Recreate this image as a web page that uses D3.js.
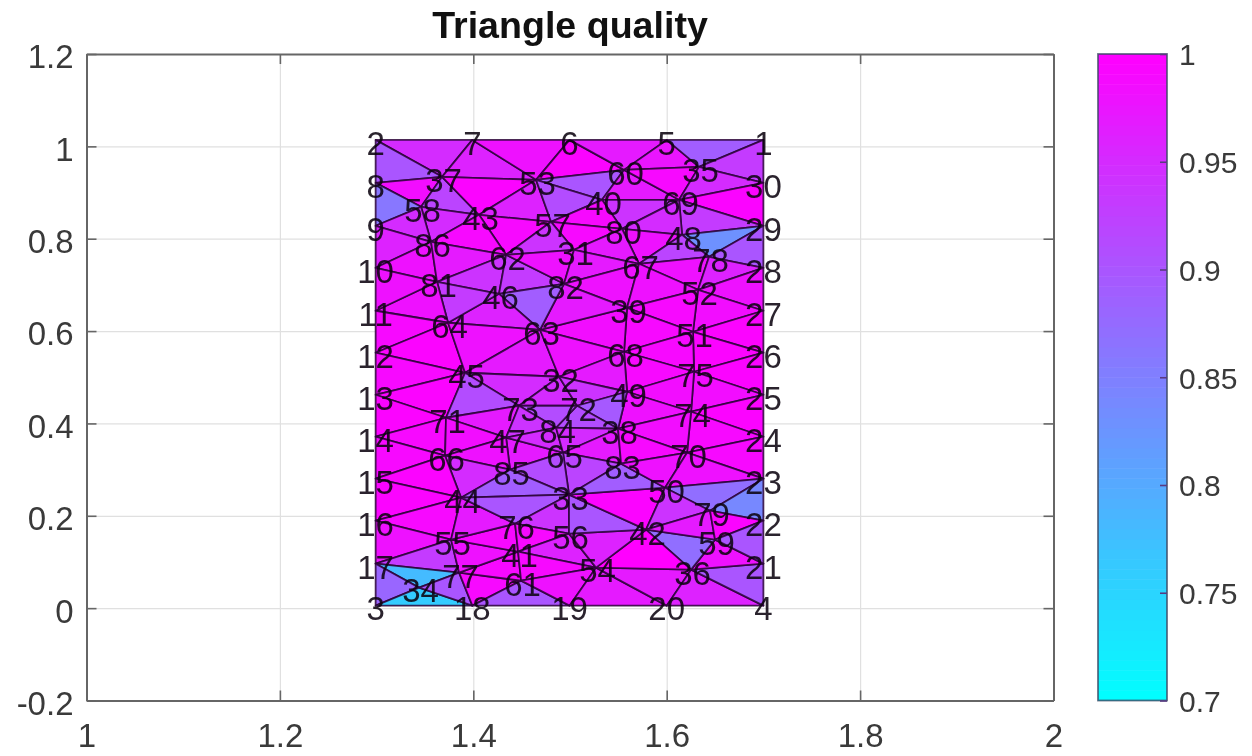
<!DOCTYPE html>
<html>
<head>
<meta charset="utf-8">
<script src="https://cdn.jsdelivr.net/npm/d3@7"></script>
<style>
  html, body { margin: 0; padding: 0; background: white; }
  svg text { font-family: "Liberation Sans", Arial, sans-serif; }
  /* the reference is a soft screenshot */
  svg { filter: blur(0.6px); }
</style>
</head>
<body>
<div id="chart"></div>
<script>
// node positions, index 0 is node 1
var nodeX = [1.7, 1.299, 1.299, 1.7, 1.6, 1.4995, 1.399, 1.299, 1.299, 1.299,
  1.299, 1.299, 1.299, 1.299, 1.299, 1.299, 1.299, 1.399, 1.4995, 1.6,
  1.7, 1.7, 1.7, 1.7, 1.7, 1.7, 1.7, 1.7, 1.7, 1.7,
  1.5042, 1.4887, 1.499, 1.3439, 1.6334, 1.6252, 1.3677, 1.5497, 1.559, 1.5331,
  1.4463, 1.5786, 1.4059, 1.3873, 1.3915, 1.4266, 1.4339, 1.6159, 1.559, 1.5983,
  1.6272, 1.6324, 1.4649, 1.5269, 1.377, 1.499, 1.4804, 1.346, 1.65, 1.5559,
  1.4494, 1.4339, 1.469, 1.3739, 1.4928, 1.3708, 1.5714, 1.5559, 1.6128, 1.621,
  1.3718, 1.5073, 1.4473, 1.6252, 1.6283, 1.4432, 1.3853, 1.6438, 1.6448, 1.5538,
  1.3625, 1.4938, 1.5528, 1.4856, 1.438, 1.3563]
var nodeY = [1.014, 1.014, 0.0054, 0.0054, 1.014, 1.014, 1.014, 0.921, 0.828, 0.737,
  0.644, 0.5531, 0.4621, 0.3712, 0.2803, 0.1894, 0.0963, 0.0054, 0.0054, 0.0054,
  0.0963, 0.1894, 0.2803, 0.3712, 0.4621, 0.5531, 0.644, 0.737, 0.828, 0.921,
  0.776, 0.5011, 0.2457, 0.0444, 0.9556, 0.0833, 0.934, 0.3885, 0.6504, 0.8842,
  0.1223, 0.1699, 0.8517, 0.2392, 0.5097, 0.6807, 0.3691, 0.8085, 0.4686, 0.2608,
  0.5985, 0.6894, 0.9275, 0.0877, 0.1483, 0.1613, 0.8366, 0.8691, 0.1483, 0.9491,
  0.0595, 0.7652, 0.6028, 0.618, 0.3366, 0.3301, 0.7457, 0.5552, 0.8842, 0.3366,
  0.4123, 0.4383, 0.4383, 0.4253, 0.5119, 0.1829, 0.0768, 0.7608, 0.211, 0.8214,
  0.7067, 0.7024, 0.3128, 0.3907, 0.2998, 0.7933]

// triangles use the 1-based node numbers written on the plot
var triangles = [[2,7,37],[2,37,8],[7,53,37],[7,6,53],[6,60,53],[6,5,60],[5,35,60],[5,1,35],[1,30,35],
  [8,37,58],[8,58,9],[37,43,58],[37,53,43],[53,57,43],
  [53,60,40],[60,69,40],[60,35,69],[35,30,69],[30,29,69],[69,29,48],[48,29,78],[29,28,78],
  [40,69,80],[69,48,80],[80,48,67],[48,78,67],[53,40,57],[57,40,80],[57,80,31],[31,80,67],
  [43,57,62],[57,31,62],[58,43,86],[86,43,62],[9,58,86],[9,86,10],[10,86,81],[86,62,81],
  [62,81,46],[62,46,82],[62,31,82],[31,67,82],[82,67,39],[67,78,52],[67,52,39],[78,28,52],[52,28,27],
  [52,27,51],[27,26,51],[39,52,51],[39,51,68],[51,26,75],[51,75,68],[26,25,75],[25,74,75],
  [25,24,74],[68,75,49],[75,74,49],[49,74,38],[74,24,70],[74,70,38],[70,24,23],
  [39,68,63],[82,39,63],[46,82,63],[46,64,63],[81,46,64],[11,81,64],[10,81,11],[11,64,12],
  [12,64,45],[64,45,63],[12,45,13],[13,45,71],[13,71,14],[45,63,32],[63,68,32],[45,73,32],
  [45,71,73],[71,47,73],[14,66,71],[71,47,66],[32,68,49],[32,72,73],[32,49,72],[72,49,38],
  [72,38,84],[73,84,72],[73,47,84],[47,65,85],[47,84,65],[66,47,85],[84,38,65],[38,83,65],
  [38,70,83],[65,33,83],[85,33,65],[66,85,44],[44,33,85],[14,66,15],[15,44,66],[15,16,44],
  [16,44,55],[16,55,17],[17,55,77],[17,34,77],[3,34,17],[3,18,34],[34,18,77],[18,77,61],
  [18,61,19],[77,41,61],[55,41,77],[55,76,41],[44,76,55],[44,33,76],[76,33,56],[76,56,41],
  [41,56,54],[41,54,61],[61,54,19],[19,54,20],[54,36,20],[20,36,4],[36,21,4],[36,59,21],
  [42,59,36],[42,36,54],[56,42,54],[33,42,56],[33,50,42],[33,83,50],[83,70,50],[70,23,50],
  [50,23,79],[23,22,79],[50,79,42],[42,79,59],[79,22,59],[22,21,59]]

var quality = [0.95,0.9,0.96,0.98,0.995,0.97,0.975,0.89,0.93,
  0.985,0.86,0.92,0.995,0.96,
  0.9,0.97,0.99,0.95,0.995,0.93,0.83,0.9,
  0.94,0.95,0.98,0.92,0.91,0.99,0.99,0.97,
  0.99,0.94,0.95,0.99,0.95,0.96,0.98,0.97,
  0.94,0.93,0.98,0.97,0.98,0.98,0.98,0.96,0.98,
  0.985,0.995,0.99,0.99,0.995,0.99,0.995,0.985,
  0.995,0.99,0.985,0.98,0.99,0.985,0.99,
  0.985,0.97,0.89,0.96,0.93,0.98,0.98,0.99,
  0.995,0.98,0.99,0.995,0.995,0.97,0.98,0.95,
  0.91,0.97,0.99,0.985,0.97,0.95,0.94,0.895,
  0.91,0.91,0.94,0.97,0.95,0.98,0.95,0.97,
  0.99,0.92,0.91,0.95,0.89,0.99,0.995,0.995,
  0.99,0.98,0.93,0.78,0.88,0.76,0.9,0.99,
  0.9,0.99,0.98,0.99,0.97,0.9,0.94,0.99,
  0.96,0.99,0.98,0.97,0.97,0.96,0.9,0.98,
  0.87,1,0.96,0.9,0.995,0.89,0.98,0.98,
  0.87,0.84,0.94,0.97,0.995,0.9]

var xTicks = [1, 1.2, 1.4, 1.6, 1.8, 2]
var yTicks = [-0.2, 0, 0.2, 0.4, 0.6, 0.8, 1, 1.2]
var colorTicks = [0.7, 0.75, 0.8, 0.85, 0.9, 0.95, 1]
var titleText = 'Triangle quality'

var margin = { top: 54, left: 86.5, right: 198.5, bottom: 55.5 }
var height = 756 - margin.top - margin.bottom
var width = 1252 - margin.left - margin.right

var svg = d3
  .select('#chart')
  .append('svg')
  .attr('height', 756)
  .attr('width', 1252)
  .style('display', 'block')

var g = svg
  .append('g')
  .attr('transform', 'translate(' + margin.left + ',' + margin.top + ')')

var xScale = d3.scaleLinear().domain([1, 2]).range([0, width])
var yScale = d3.scaleLinear().domain([-0.2, 1.2]).range([height, 0])
var colorScale = d3
  .scaleLinear()
  .domain([0.7, 1])
  .range(['#00ffff', '#ff00ff'])

var axisColor = '#666'
var labelColor = '#3a3a3a'
var plain = d => String(d)

// grid sits under the mesh
g.append('g')
  .attr('class', 'grid')
  .attr('transform', 'translate(0,' + height + ')')
  .call(d3.axisBottom(xScale).tickValues(xTicks).tickSize(-height).tickFormat(''))
g.append('g')
  .attr('class', 'grid')
  .call(d3.axisLeft(yScale).tickValues(yTicks).tickSize(-width).tickFormat(''))
g.selectAll('.grid .domain').remove()
g.selectAll('.grid line').attr('stroke', '#e0e0e0').attr('stroke-width', 1.2)

var line = d3
  .line()
  .x(n => xScale(nodeX[n - 1]))
  .y(n => yScale(nodeY[n - 1]))
  .curve(d3.curveLinearClosed)

g.selectAll('.tri')
  .data(triangles)
  .enter()
  .append('path')
  .attr('class', 'tri')
  .attr('d', d => line(d))
  .attr('fill', (d, i) => colorScale(quality[i]))
  .attr('stroke', '#2c0438')
  .attr('stroke-opacity', 0.85)
  .attr('stroke-width', 1.8)
  .attr('stroke-linejoin', 'round')

// inner labels sit a little right of and below their node
g.selectAll('.node-label')
  .data(nodeX)
  .enter()
  .append('text')
  .attr('class', 'node-label')
  .attr('x', d => xScale(d))
  .attr('y', (d, i) => yScale(nodeY[i]))
  .attr('dx', (d, i) => (i < 30 ? 0 : 1.5))
  .attr('dy', '0.45em')
  .attr('text-anchor', 'middle')
  .attr('font-size', 33)
  .attr('fill', '#0c0410')
  .attr('fill-opacity', 0.88)
  .text((d, i) => i + 1)

// box with inward ticks on all four sides
var tickIn = 10
g.append('g')
  .attr('class', 'axis x-axis')
  .attr('transform', 'translate(0,' + height + ')')
  .call(d3.axisBottom(xScale).tickValues(xTicks).tickSizeInner(-tickIn).tickSizeOuter(0).tickPadding(23).tickFormat(plain))
g.append('g')
  .attr('class', 'axis y-axis')
  .call(d3.axisLeft(yScale).tickValues(yTicks).tickSizeInner(-tickIn).tickSizeOuter(0).tickPadding(13).tickFormat(plain))
g.append('g')
  .attr('class', 'axis')
  .call(d3.axisTop(xScale).tickValues(xTicks).tickSizeInner(-tickIn).tickSizeOuter(0).tickFormat(''))
g.append('g')
  .attr('class', 'axis')
  .attr('transform', 'translate(' + width + ',0)')
  .call(d3.axisRight(yScale).tickValues(yTicks).tickSizeInner(-tickIn).tickSizeOuter(0).tickFormat(''))

g.append('text')
  .attr('x', 483.5)
  .attr('y', -16)
  .attr('text-anchor', 'middle')
  .attr('font-size', 37.6)
  .attr('font-weight', 'bold')
  .attr('fill', '#111')
  .text(titleText)

// colorbar
var cbWidth = 69
var cb = svg.append('g').attr('transform', 'translate(1098,' + margin.top + ')')
var cbScale = d3.scaleLinear().domain([0.7, 1]).range([height, 0])
var levelStep = 0.3 / 64
var levels = d3.range(64).map(i => 0.7 + i * levelStep)

cb.selectAll('rect')
  .data(levels)
  .enter()
  .append('rect')
  .attr('x', 0)
  .attr('width', cbWidth)
  .attr('y', d => cbScale(d + levelStep))
  .attr('height', d => cbScale(d) - cbScale(d + levelStep) + 0.5)
  .attr('fill', d => colorScale(d + levelStep / 2))

cb.append('rect')
  .attr('class', 'cb-box')
  .attr('width', cbWidth)
  .attr('height', height)
  .attr('fill', 'none')
  .attr('stroke', '#3c4a66')
  .attr('stroke-opacity', 0.8)
  .attr('stroke-width', 1.8)

cb.append('g')
  .attr('class', 'axis cb-axis')
  .attr('transform', 'translate(' + cbWidth + ',0)')
  .call(d3.axisRight(cbScale).tickValues(colorTicks).tickSizeInner(-7).tickSizeOuter(0).tickPadding(12).tickFormat(plain))

svg.selectAll('.axis .domain').attr('stroke', axisColor).attr('stroke-width', 2)
svg.selectAll('.axis line').attr('stroke', axisColor).attr('stroke-width', 1.6)
svg.selectAll('.axis text').attr('fill', labelColor).attr('font-size', 33)
svg.selectAll('.y-axis text').attr('dy', '0.42em')
svg.selectAll('.cb-axis .domain').remove()
svg.selectAll('.cb-axis line').attr('stroke', '#5a3a80')
svg.selectAll('.cb-axis text').attr('font-size', 30).attr('dy', '0.36em')
</script>
</body>
</html>
